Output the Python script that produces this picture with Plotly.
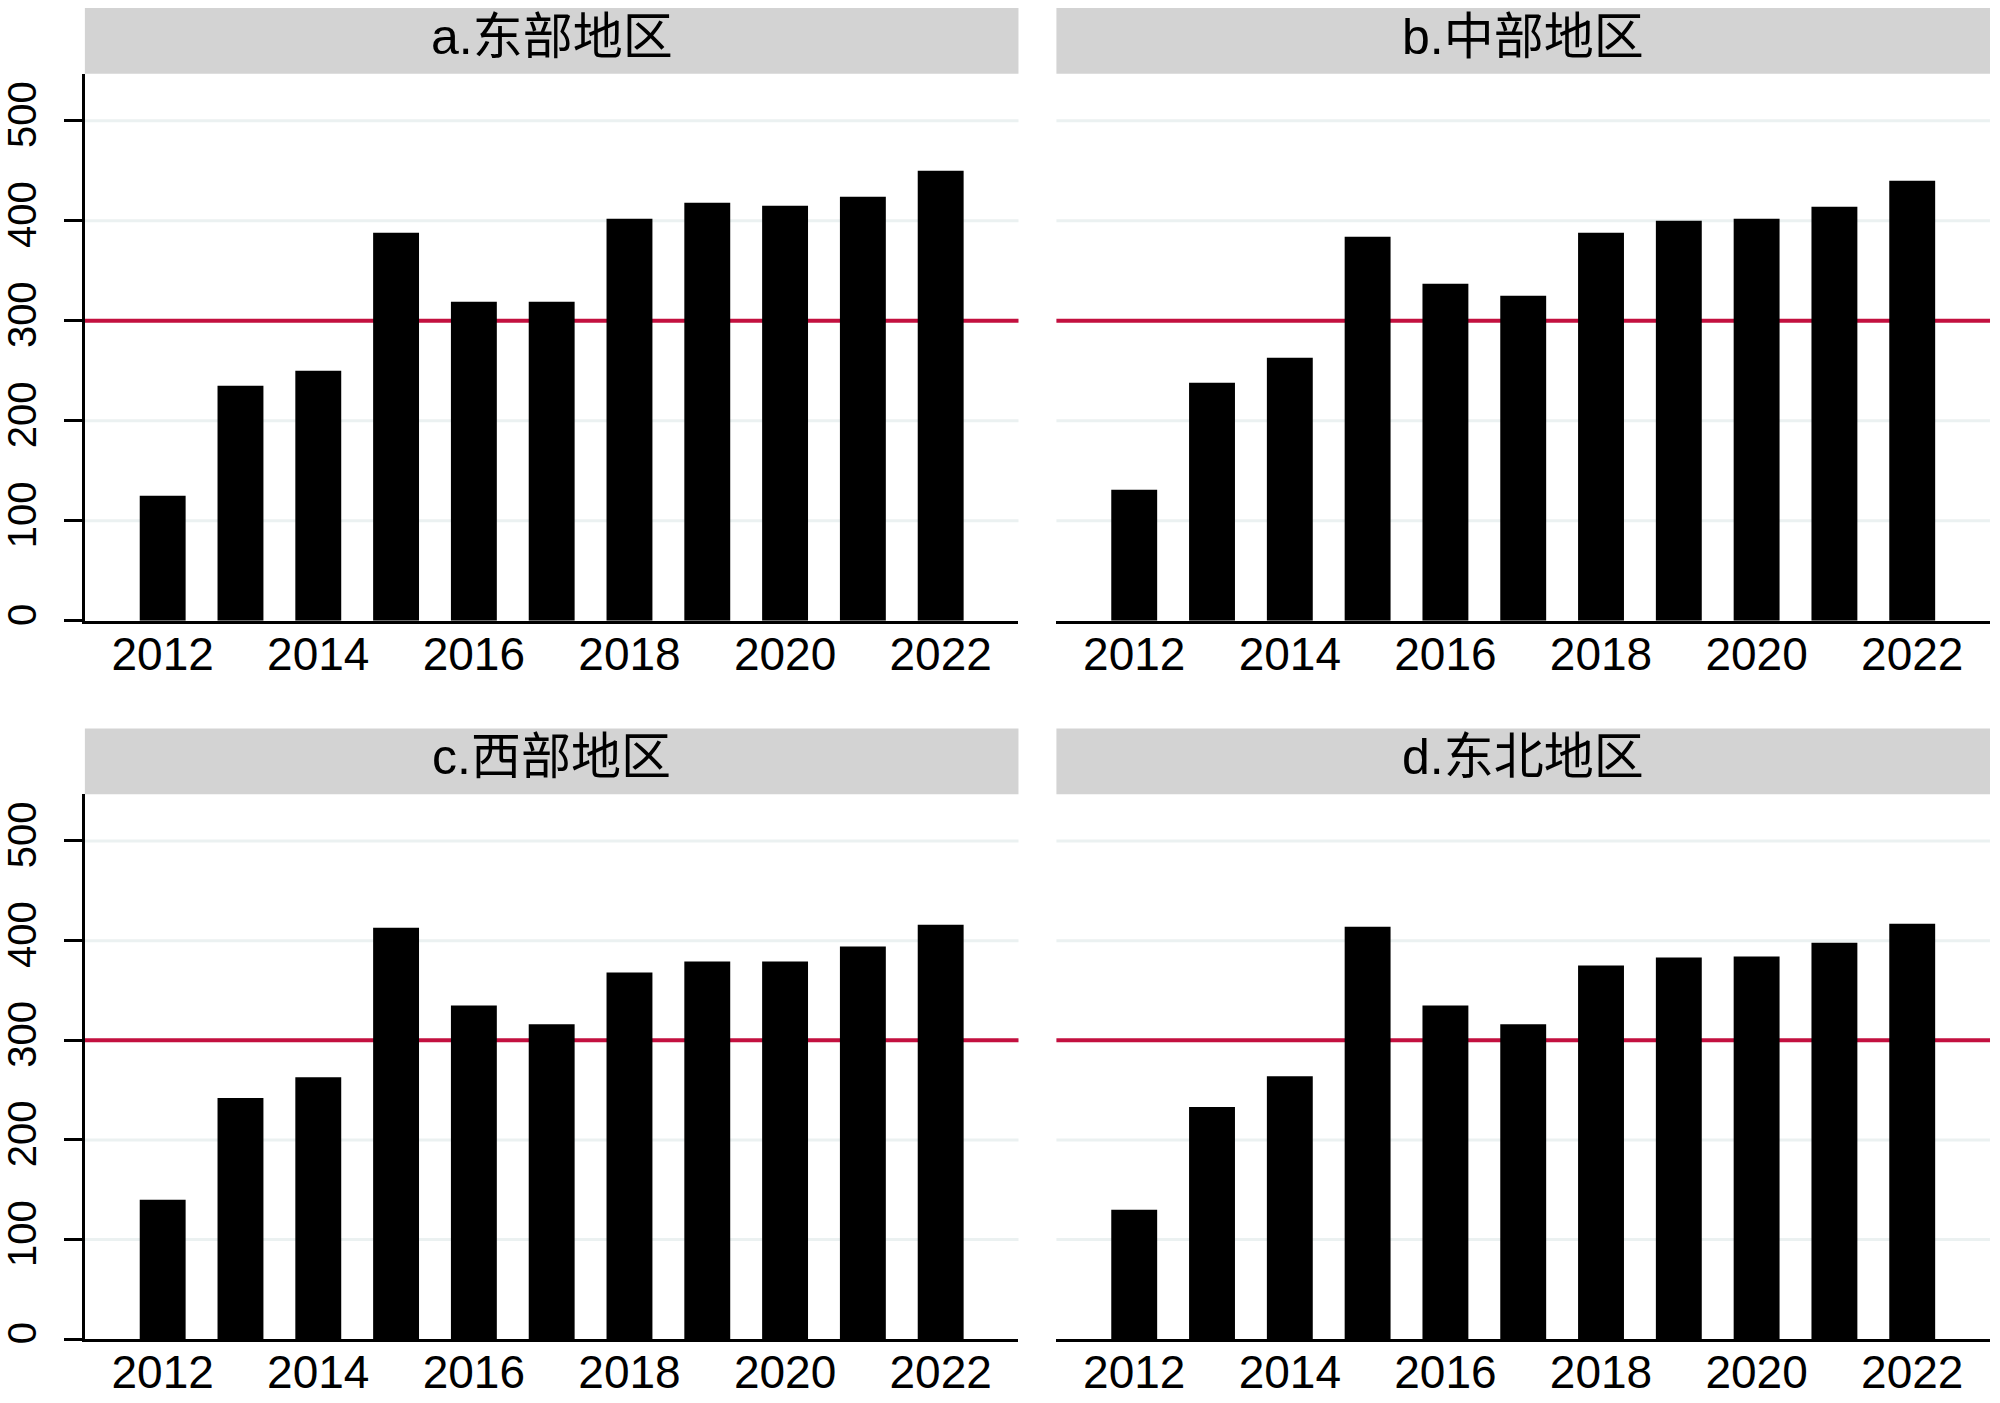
import plotly.graph_objects as go

years = list(range(2012, 2023))
east = [125, 235, 250, 388, 319, 319, 402, 418, 415, 424, 450]
central = [131, 238, 263, 384, 337, 325, 388, 400, 402, 414, 440]
west = [140, 242, 263, 413, 335, 316, 368, 379, 379, 394, 416]
northeast = [130, 233, 264, 414, 335, 316, 375, 383, 384, 398, 417]
titles = ["a.东部地区", "b.中部地区", "c.西部地区", "d.东北地区"]
series = [east, central, west, northeast]
threshold = 300
xticks = [2012, 2014, 2016, 2018, 2020, 2022]
yticks = [0, 100, 200, 300, 400, 500]

W, H = 2000, 1403
FONT = "Liberation Sans, Arial, Noto Sans CJK SC"

# panel geometry in pixels (left, right) and (strip_top, plot_top, plot_bottom)
cols = [(82, 1017), (1055, 1990)]
rows = [(8, 74, 623), (731, 797, 1344)]

fig = go.Figure()
layout = dict(
    width=W, height=H, margin=dict(l=0, r=0, t=0, b=0),
    plot_bgcolor="white", paper_bgcolor="white",
    showlegend=False, bargap=0.41,
    font=dict(family=FONT, color="black", size=42),
)
shapes = []
annotations = []

for i, (vals, title) in enumerate(zip(series, titles)):
    r, c = divmod(i, 2)
    xl, xr = cols[c]
    st, pt, pb = rows[r]
    xd = [xl / W, xr / W]
    yd = [(H - pb) / H, (H - pt) / H]
    sfx = "" if i == 0 else str(i + 1)
    xname, yname = "x" + sfx, "y" + sfx
    left = (c == 0)
    fig.add_trace(go.Bar(x=years, y=vals, xaxis=xname, yaxis=yname,
                         marker=dict(color="black", line=dict(width=0))))
    layout["xaxis" + sfx] = dict(
        domain=xd, anchor=yname, range=[2011, 2023],
        tickvals=xticks, ticktext=[str(t) for t in xticks],
        showline=True, linecolor="black", linewidth=2.5,
        showgrid=False, zeroline=False, ticks="",
        tickfont=dict(size=46, family=FONT), ticklabelstandoff=-9,
    )
    layout["yaxis" + sfx] = dict(
        domain=yd, anchor=xname, range=[0, 547],
        tickvals=yticks, ticktext=[str(t) for t in yticks],
        showline=left, linecolor="black", linewidth=2.5,
        ticks="outside" if left else "", ticklen=18, tickwidth=2.5,
        tickcolor="black", showticklabels=left,
        tickangle=-90, showgrid=False,
        zeroline=False, tickfont=dict(size=40, family=FONT),
        ticklabelstandoff=12,
    )
    # light grid lines drawn as shapes so the reference line sits above them
    for t in yticks[1:]:
        shapes.append(dict(type="line", xref=xname + " domain", yref=yname,
                           x0=0, x1=1, y0=t, y1=t,
                           line=dict(color="#ebf1f1", width=3), layer="below"))
    shapes.append(dict(type="line", xref=xname + " domain", yref=yname,
                       x0=0, x1=1, y0=threshold, y1=threshold,
                       line=dict(color="#c3103f", width=4), layer="below"))
    shapes.append(dict(type="rect", xref="paper", yref="paper",
                       x0=xl / W, x1=xr / W, y0=(H - pt) / H, y1=(H - st) / H,
                       fillcolor="#d3d3d3", line=dict(width=0), layer="below"))
    annotations.append(dict(text=title, xref="paper", yref="paper",
                            x=(xl + xr) / 2 / W, y=(H - (st + 29)) / H,
                            xanchor="center", yanchor="middle", showarrow=False,
                            font=dict(size=50, family=FONT, color="black")))

layout["shapes"] = shapes
layout["annotations"] = annotations
fig.update_layout(**layout)
fig.write_html("out.html", config={"displayModeBar": False},
               post_script="document.body.style.margin='0px';document.body.style.padding='0px';")
